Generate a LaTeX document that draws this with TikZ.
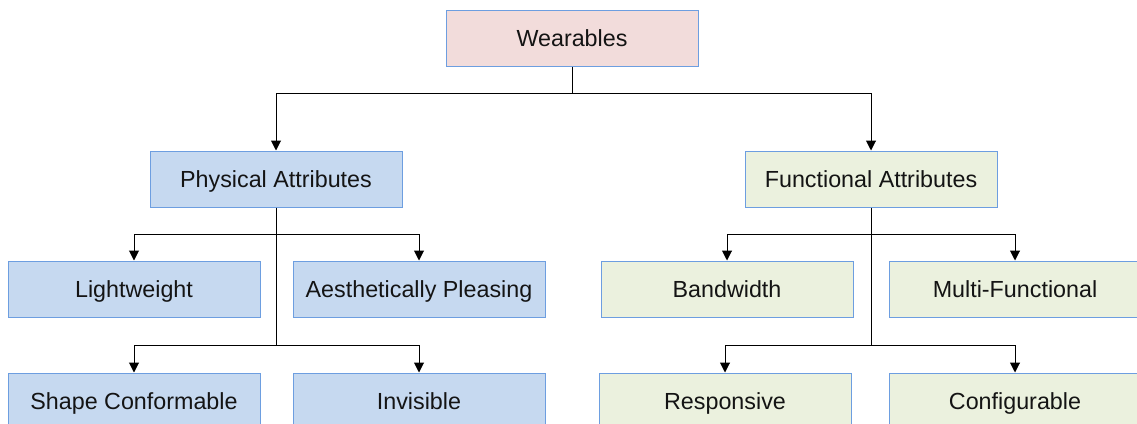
\documentclass[tikz,border=0pt]{standalone}
\usepackage{fontspec}
\setmainfont{Liberation Sans}
\usetikzlibrary{arrows.meta}
\definecolor{edgeblue}{HTML}{6D9EE0}
\definecolor{rootfill}{HTML}{F2DCDB}
\definecolor{physfill}{HTML}{C6D9F0}
\definecolor{funcfill}{HTML}{EBF1DE}
\tikzset{
  box/.style={draw=edgeblue, line width=1pt, minimum width=252pt, minimum height=56pt,
    inner sep=0pt, text height=16.7pt, text depth=0pt,
    font=\fontsize{23.3}{28}\selectfont, text=black!92},
  rootbox/.style={box, fill=rootfill},
  physbox/.style={box, fill=physfill},
  funcbox/.style={box, fill=funcfill},
  link/.style={draw=black, line width=1pt},
  arrowlink/.style={link, -{Triangle[length=10pt,width=10pt]}}
}
\begin{document}
\begin{tikzpicture}[x=1pt,y=-1pt]
  \useasboundingbox (0,0) rectangle (1137,423);
  \clip (0,0) rectangle (1137,423);

  % root
  \node[rootbox] (W) at (572,38) {Wearables};

  % attribute groups
  \node[physbox] (P) at (276,179) {Physical Attributes};
  \node[funcbox] (F) at (871,179) {Functional Attributes};

  % physical leaves
  \node[physbox] (L)  at (134,289) {Lightweight};
  \node[physbox] (A)  at (419,289) {Aesthetically Pleasing};
  \node[physbox] (S)  at (134,401) {Shape Conformable};
  \node[physbox] (I)  at (419,401) {Invisible};

  % functional leaves
  \node[funcbox] (B)  at (727,289) {Bandwidth};
  \node[funcbox] (M)  at (1015,289) {Multi-Functional};
  \node[funcbox] (R)  at (725,401) {Responsive};
  \node[funcbox] (C)  at (1015,401) {Configurable};

  % root to groups
  \draw[arrowlink] (W.south) -- (W.south |- 0,93) -| (P.north);
  \draw[arrowlink] (W.south |- 0,93) -| (F.north);

  % physical branch
  \draw[link] (P.south) -- (P.south |- 0,345);
  \draw[arrowlink] (P.south |- 0,234) -| (L.north);
  \draw[arrowlink] (P.south |- 0,234) -| (A.north);
  \draw[arrowlink] (P.south |- 0,345) -| (S.north);
  \draw[arrowlink] (P.south |- 0,345) -| (I.north);

  % functional branch
  \draw[link] (F.south) -- (F.south |- 0,345);
  \draw[arrowlink] (F.south |- 0,234) -| (B.north);
  \draw[arrowlink] (F.south |- 0,234) -| (M.north);
  \draw[arrowlink] (F.south |- 0,345) -| (R.north);
  \draw[arrowlink] (F.south |- 0,345) -| (C.north);
\end{tikzpicture}
\end{document}
